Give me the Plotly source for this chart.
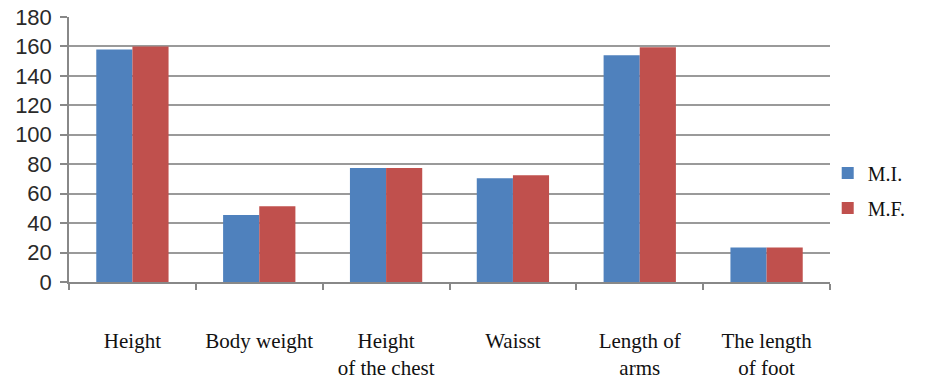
import plotly.graph_objects as go

# Anthropometric indicators, two groups
categories = ["Height", "Body weight", "Height<br>of the chest", "Waisst",
              "Length of<br>arms", "The length<br>of foot"]
mi_values = [158, 45.5, 77.5, 70.5, 154, 23.5]
mf_values = [160, 51.5, 77.5, 72.5, 159.5, 23.5]
y_ticks = [0, 20, 40, 60, 80, 100, 120, 140, 160, 180]

fig = go.Figure()
fig.add_trace(go.Bar(x=categories, y=mi_values, name="M.I.",
                     marker=dict(color="#4F81BD", line=dict(width=0)),
                     legendgroup="a"))
fig.add_trace(go.Bar(x=categories, y=mf_values, name="M.F.",
                     marker=dict(color="#C0504D", line=dict(width=0)),
                     legendgroup="b"))

fig.update_layout(
    width=936, height=381,
    margin=dict(l=69, r=106, t=17, b=99, autoexpand=False),
    paper_bgcolor="white", plot_bgcolor="white",
    barmode="group", bargap=0.43, bargroupgap=0,
    showlegend=True,
    legend=dict(x=0.997, y=0.345, xanchor="left", yanchor="middle",
                font=dict(family="Liberation Serif", size=20, color="#111"),
                traceorder="grouped", tracegroupgap=6,
                itemwidth=30, bgcolor="rgba(0,0,0,0)"),
    font=dict(family="Liberation Serif", size=20, color="#111"),
)

fig.update_xaxes(
    type="category", tickson="boundaries", automargin=False,
    ticks="outside", ticklen=6, tickcolor="#888", tickwidth=1.5,
    showline=True, linecolor="#888", linewidth=1.5,
    showgrid=False,
    tickfont=dict(family="Liberation Serif", size=21, color="#111"),
    ticklabelstandoff=39,
)
fig.update_yaxes(
    range=[0, 180], tickvals=y_ticks, automargin=False,
    ticks="outside", ticklen=7, tickcolor="#888", tickwidth=1.5,
    showline=True, linecolor="#888", linewidth=1.5,
    showgrid=True, gridcolor="#9a9a9a", gridwidth=1.5,
    zeroline=False,
    tickfont=dict(family="Liberation Sans", size=22, color="#2a2a2a"),
    ticklabelstandoff=4,
)

fig.write_html("out.html")
